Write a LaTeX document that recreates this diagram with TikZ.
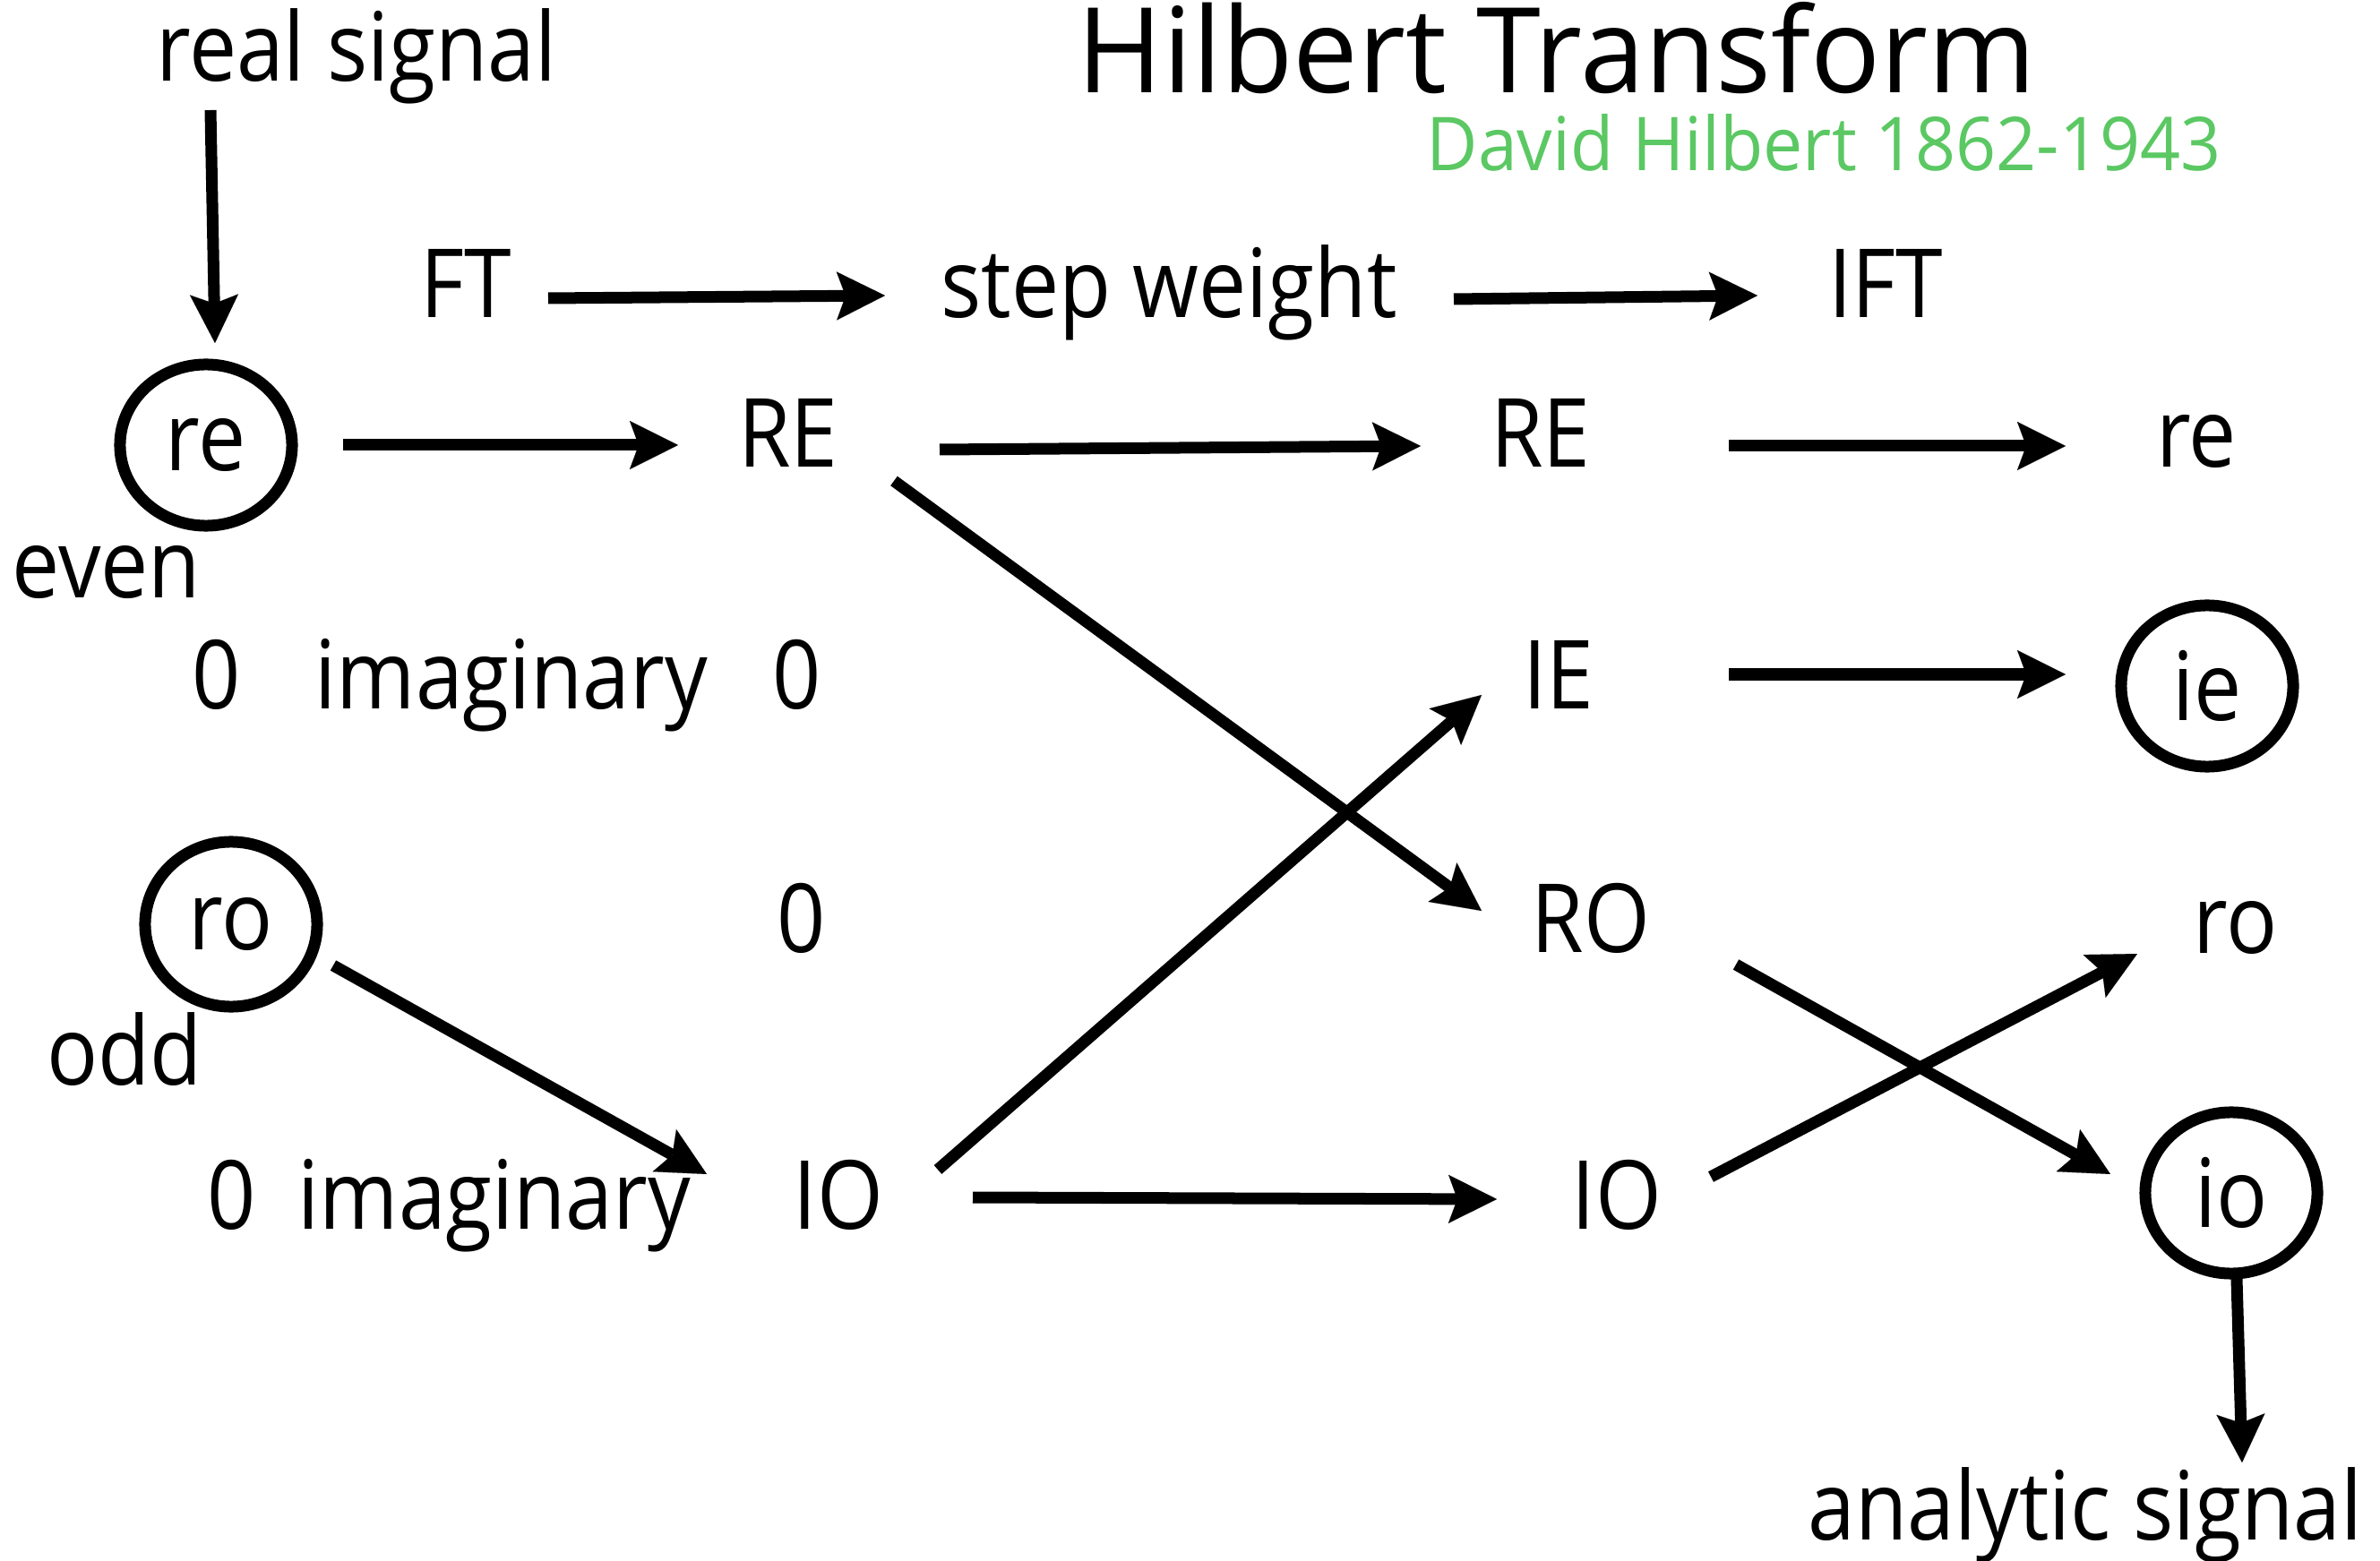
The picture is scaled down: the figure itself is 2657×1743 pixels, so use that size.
\documentclass[tikz,border=0pt]{standalone}
\usepackage{fontspec}
\setmainfont{Open Sans}[FakeStretch=0.89]
\newfontfamily\titlefont{Open Sans}[FakeStretch=0.98]
\newfontfamily\subfont{Open Sans}[FakeStretch=0.95]
\usetikzlibrary{arrows.meta,shapes.geometric}
\definecolor{hgreen}{RGB}{91,200,99}
\begin{document}
\begin{tikzpicture}[x=0.01cm,y=-0.01cm,
  lbl/.style={inner sep=0pt, text height=21.6pt, text depth=0pt, font=\fontsize{30.3}{36}\selectfont},
  circ/.style={ellipse, draw, line width=0.13cm, inner sep=0pt, minimum width=1.92cm, minimum height=1.80cm, font=\fontsize{30.3}{36}\selectfont},
  arr/.style={line width=0.13cm, -{Stealth[length=0.54cm,width=0.54cm,inset=0.1cm,line width=0.01pt]}}
]
\useasboundingbox (0,0) rectangle (2657,1743);

% title
\node[anchor=base, inner sep=0pt, font=\titlefont\fontsize{37.6}{44}\selectfont] (title) at (1738,104) {Hilbert Transform};
\node[anchor=base, inner sep=0pt, text=hgreen, font=\subfont\fontsize{23.6}{28}\selectfont] (sub) at (2036,191) {David Hilbert 1862-1943};

% labels
\node[lbl] (realsig) at (398,53) {real signal};
\node[lbl] (FT) at (520,317) {FT};
\node[lbl] (stepw) at (1305,317) {step weight};
\node[lbl] (IFT) at (2105,317) {IFT};

\node[lbl] (RE1) at (880,484) {RE};
\node[lbl] (RE2) at (1720,484) {RE};
\node[lbl] (re2) at (2452,484) {re};

\node[lbl] (even) at (119,630) {even};

\node[lbl] (z1) at (242,754) {0};
\node[lbl] (im1) at (571,754) {imaginary};
\node[lbl] (z2) at (890,754) {0};
\node[lbl] (IE) at (1740,754) {IE};

\node[lbl] (z3) at (895,1026) {0};
\node[lbl] (RO) at (1776,1026) {RO};
\node[lbl] (ro2) at (2496,1027) {ro};

\node[lbl] (odd) at (139,1174) {odd};

\node[lbl] (z4) at (259,1335) {0};
\node[lbl] (im2) at (552,1335) {imaginary};
\node[lbl] (IO1) at (936,1335) {IO};
\node[lbl] (IO2) at (1805,1335) {IO};

\node[lbl] (analytic) at (2328,1682) {analytic signal};

% circled nodes
\node[circ] (reC) at (230,497) {re};
\node[circ, minimum height=1.84cm] (roC) at (258,1032) {ro};
\node[circ] (ieC) at (2464,766) {ie};
\node[circ] (ioC) at (2491,1332) {io};

% connectors
\draw[arr] ([shift={(-163,70)}]realsig.center) -- ([shift={(10,-114)}]reC.center);
\draw[arr] ([shift={(92,16)}]FT.center) -- ([shift={(-317,13)}]stepw.center);
\draw[arr] ([shift={(318,17)}]stepw.center) -- ([shift={(-143,13)}]IFT.center);
\draw[arr] ([shift={(153,0)}]reC.center) -- ([shift={(-123,13)}]RE1.center);
\draw[arr] ([shift={(169,18)}]RE1.center) -- ([shift={(-134,14)}]RE2.center);
\draw[arr] ([shift={(210,14)}]RE2.center) -- ([shift={(-146,14)}]re2.center);
\draw[arr] ([shift={(190,-1)}]IE.center) -- ([shift={(-158,-13)}]ieC.center);
\draw[arr] ([shift={(118,53)}]RE1.center) -- ([shift={(-122,-9)}]RO.center);
\draw[arr] ([shift={(114,46)}]roC.center) -- ([shift={(-147,-24)}]IO1.center);
\draw[arr] ([shift={(111,-29)}]IO1.center) -- ([shift={(-86,22)}]IE.center);
\draw[arr] ([shift={(150,2)}]IO1.center) -- ([shift={(-134,4)}]IO2.center);
\draw[arr] ([shift={(162,51)}]RO.center) -- ([shift={(-135,-21)}]ioC.center);
\draw[arr] ([shift={(105,-21)}]IO2.center) -- ([shift={(-110,38)}]ro2.center);
\draw[arr] ([shift={(6,96)}]ioC.center) -- ([shift={(175,-49)}]analytic.center);
\end{tikzpicture}
\end{document}
